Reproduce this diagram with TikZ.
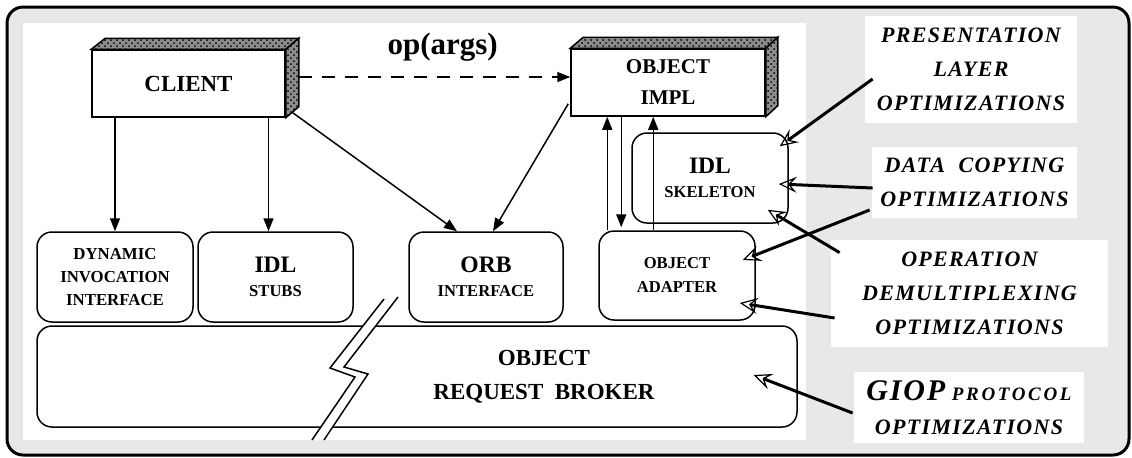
\documentclass[tikz,border=0pt]{standalone}
\usepackage{fontspec}
\setmainfont{Liberation Serif}
\newfontfamily\optfont[LetterSpace=6]{Liberation Serif}
\newfontfamily\optwidefont[LetterSpace=14]{Liberation Serif}
\newcommand{\modbig}{\bfseries\fontsize{11.8}{12}\selectfont}
\newcommand{\modsmall}{\bfseries\fontsize{8.3}{12}\selectfont}
\usetikzlibrary{
  arrows.meta,
  calc,
  patterns
}

\begin{document}
\begin{tikzpicture}[
          x=0.5pt,y=-0.5pt,
          cube/.style={
              draw,line width=0.75pt,fill=white,inner sep=0pt,
              minimum height=33.5pt,align=center
            },side/.style={
              draw,line width=0.75pt,fill=black!45,
              postaction={pattern=crosshatch dots,pattern color=black}
            },module/.style={
              draw,line width=0.75pt,fill=white,rounded corners=7.5pt,
              inner sep=0pt,align=center,font=\modsmall
            },note/.style={
              fill=white,inner sep=0pt,align=center,
              font=\optfont\bfseries\itshape\fontsize{11}{17}\selectfont
            },call/.style={
              line width=0.75pt,-{Triangle[length=6.5pt,width=5pt]}
            },hint/.style={
              line width=1.5pt,
              -{Stealth[open,length=9pt,width=8pt,inset=3.5pt,line width=0.6pt]}
            }
        ]
        \useasboundingbox (0,0) rectangle (1132,457);
        % 外枠
        \draw[line width=1.5pt,fill=gray!18,rounded corners=8pt] (7,7) rectangle (1129,455);
        \fill[white] (23,23) rectangle (806,440);

        % クライアントとオブジェクト実装
        \node[cube,minimum width=96.5pt,font=\bfseries\fontsize{11.5}{14}\selectfont]
          (client) at (188.5,83.5) {\raisebox{-2.5pt}{CLIENT}};
        \filldraw[side] (client.north west) -- ++(14,-11)
          -- ($(client.north east)+(13,-11)$) -- (client.north east) -- cycle;
        \filldraw[side] (client.north east) -- ++(13,-11)
          -- ($(client.south east)+(13,-11)$) -- (client.south east) -- cycle;

        \node[cube,minimum width=97pt,font=\bfseries\fontsize{10.5}{15.5}\selectfont]
          (impl) at (668,82.5) {\raisebox{-2pt}{OBJECT}\\\raisebox{-2pt}{IMPL}};
        \filldraw[side] (impl.north west) -- ++(13,-11)
          -- ($(impl.north east)+(12,-11)$) -- (impl.north east) -- cycle;
        \filldraw[side] (impl.north east) -- ++(12,-11)
          -- ($(impl.south east)+(12,-11)$) -- (impl.south east) -- cycle;

        % ORBの各部
        \node[module,minimum width=78pt,minimum height=45pt,font=\bfseries\fontsize{8.4}{11.7}\selectfont]
          (dii) at (115,277) {DYNAMIC\\INVOCATION\\INTERFACE};
        \node[module,minimum width=77.5pt,minimum height=45pt]
          (stubs) at (275.5,277) {{\modbig IDL}\\STUBS};
        \node[module,minimum width=77pt,minimum height=45pt]
          (orbif) at (486,277) {{\modbig ORB}\\INTERFACE};
        \node[module,minimum width=78pt,minimum height=44.5pt]
          (adapter) at (677,275.5) {OBJECT\\ADAPTER};
        \node[module,minimum width=78pt,minimum height=45pt]
          (skel) at (710,178) {{\modbig IDL}\\SKELETON};
        \node[module,minimum width=380pt,minimum height=50.5pt]
          (orb) at (417,376.5) {};
        \node[align=center,font=\bfseries\fontsize{11.5}{17}\selectfont]
          (orbtext) at (544,377) {OBJECT\\REQUEST\ \ BROKER};

        % 切れ目
        \fill[white] (384,299) -- (330,368) -- (355,377) -- (312,440)
          -- (324,440) -- (368,374) -- (344,367) -- (398,297) -- cycle;
        \draw[line width=0.75pt] (384,299) -- (330,368) -- (355,377) -- (312,440);
        \draw[line width=0.75pt] (398,297) -- (344,367) -- (368,374) -- (324,440);

        % 呼び出しの経路
        \coordinate (cface) at ($(client.east)+(13,-6.5)$);
        \draw[call,dash pattern=on 6.5pt off 5pt] (cface) -- (cface -| impl.west)
          node[pos=0.53,above=4pt,font=\bfseries\fontsize{15.5}{16}\selectfont] (opargs) {op(args)};
        \draw[call] (dii.north |- client.south) -- (dii.north);
        \draw[call] ($(stubs.north |- client.south)+(-7,0)$) -- ($(stubs.north)+(-7,0)$);
        \draw[call] ($(client.south east)+(7,-5)$) -- ($(orbif.north)+(-29,0)$);
        \draw[call] ($(impl.south west)+(-2,-13)$) -- ($(orbif.north)+(7,0)$);

        \coordinate (upA) at ($(adapter.north west)+(9,0)$);
        \coordinate (dnA) at ($(adapter.north west)+(23,-3)$);
        \coordinate (upB) at ($(adapter.north west)+(55,0)$);
        \draw[call] (upA) -- (upA |- impl.south);
        \draw[call] (dnA |- impl.south) -- (dnA);
        \draw[call] (upB) -- (upB |- impl.south);

        % 最適化の注記
        \node[note,minimum width=106pt,minimum height=53.5pt]
          (pres) at (971,69.5) {PRESENTATION\\LAYER\\OPTIMIZATIONS};
        \node[note,minimum width=102.5pt,minimum height=35.5pt]
          (data) at (974.5,182.5) {DATA\ \ COPYING\\OPTIMIZATIONS};
        \node[note,minimum width=138.5pt,minimum height=53.5pt]
          (oper) at (969.5,293.5) {OPERATION\\DEMULTIPLEXING\\OPTIMIZATIONS};
        \node[note,minimum width=115pt,minimum height=35.5pt]
          (giop) at (969,407.5)
          {{\fontsize{15}{17}\selectfont GIOP}\ {\optwidefont\fontsize{9.5}{17}\selectfont PROTOCOL}\\OPTIMIZATIONS};

        \draw[hint] ($(pres.west)+(8,9.5)$) -- ($(skel.north east)+(-9,14)$);
        \draw[hint] ($(data.west)+(1,5.5)$) -- ($(skel.east)+(-10,6)$);
        \draw[hint] ($(data.west)+(-2,27.5)$) -- ($(adapter.east)+(-13,-15.5)$);
        \draw[hint] ($(oper.north west)+(9,13)$) -- ($(skel.south east)+(-21,-14)$);
        \draw[hint] ($(oper.west)+(4,24.5)$) -- ($(adapter.east)+(-16,27.5)$);
        \draw[hint] ($(giop.west)+(-1,5.5)$) -- ($(orb.east)+(-44,-1.5)$);

      \end{tikzpicture}
\end{document}
